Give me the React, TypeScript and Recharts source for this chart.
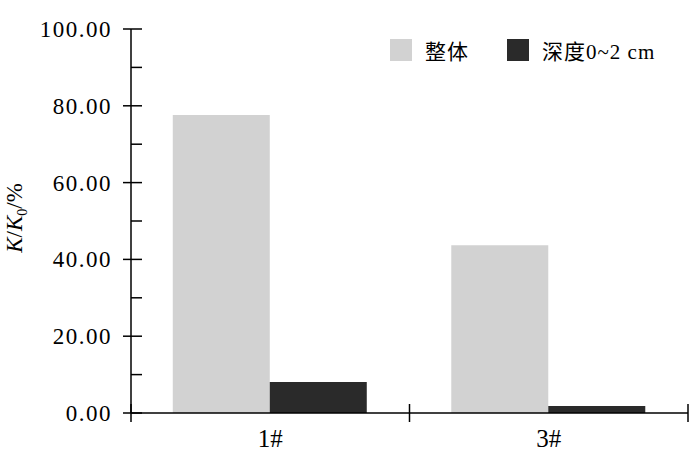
import { BarChart, Bar, XAxis, YAxis, Legend } from "recharts";

const wells = ["1#", "3#"];
const overall = [77.6, 43.7];
const shallow = [8.1, 1.8];
const yTicks = [0, 10, 20, 30, 40, 50, 60, 70, 80, 90, 100];

const data = wells.map((w, i) => ({ name: w, overall: overall[i], shallow: shallow[i] }));

const serif = "'Liberation Serif', 'Times New Roman', serif";
const cjk = "'Liberation Serif', 'Noto Sans CJK SC', serif";

function XTick(props: any) {
  const { x, y, payload, index } = props;
  const half = payload.offset ?? 139;
  return (
    <g>
      {index === 0 && (
        <line x1={x - half} x2={x - half} y1={y - 9} y2={y + 9} stroke="#000" strokeWidth={1.5} />
      )}
      <line x1={x + half} x2={x + half} y1={y - 9} y2={y + 9} stroke="#000" strokeWidth={1.5} />
      <text x={x} y={y + 34} textAnchor="middle" fontSize={25} fontFamily={serif} fill="#000">
        {payload.value}
      </text>
    </g>
  );
}

function YTick(props: any) {
  const { x, y, payload } = props;
  const major = payload.value % 20 === 0;
  return (
    <g>
      <line x1={major ? x - 8 : x} x2={x + 11} y1={y} y2={y} stroke="#000" strokeWidth={1.5} />
      {major && (
        <text x={x - 19} y={y + 8} textAnchor="end" fontSize={23} letterSpacing={1.5} fontFamily={serif} fill="#000">
          {payload.value.toFixed(2)}
        </text>
      )}
    </g>
  );
}

function YLabel(props: any) {
  const { viewBox } = props;
  const cx = viewBox.x + 22;
  const cy = viewBox.y + viewBox.height / 2 - 3;
  return (
    <text
      x={cx}
      y={cy}
      transform={`rotate(-90, ${cx}, ${cy})`}
      textAnchor="middle"
      fontSize={23}
      fontFamily={serif}
      fill="#000"
    >
      <tspan fontStyle="italic">K</tspan>
      <tspan>/</tspan>
      <tspan fontStyle="italic">K</tspan>
      <tspan dy={5} fontSize={14}>0</tspan>
      <tspan dy={-5}>/%</tspan>
    </text>
  );
}

function LegendBox(props: any) {
  const { payload } = props;
  return (
    <div style={{ display: "flex", alignItems: "center" }}>
      {payload.map((p: any, i: number) => (
        <div key={i} style={{ display: "flex", alignItems: "center", marginRight: i === 0 ? 38 : 0 }}>
          <div style={{ width: 22, height: 22, background: p.color }} />
          <span style={{ marginLeft: 13, fontSize: 21, fontFamily: cjk, color: "#000", letterSpacing: 1 }}>
            {p.value}
          </span>
        </div>
      ))}
    </div>
  );
}

export default function App() {
  return (
    <div style={{ position: "absolute", left: 0, top: 0, background: "#fff" }}>
      <BarChart
        width={700}
        height={454}
        data={data}
        margin={{ top: 29, right: 12, bottom: 0, left: 0 }}
        barCategoryGap="15%"
        barGap={0}
      >
        <XAxis
          dataKey="name"
          height={41}
          axisLine={{ stroke: "#000", strokeWidth: 1.5 }}
          tickLine={false}
          tickSize={0}
          tickMargin={0}
          tick={<XTick />}
          interval={0}
        />
        <YAxis
          width={131}
          domain={[0, 100]}
          ticks={yTicks}
          interval={0}
          axisLine={{ stroke: "#000", strokeWidth: 1.5 }}
          tickLine={false}
          tickSize={0}
          tickMargin={0}
          tick={<YTick />}
          label={{ content: <YLabel /> }}
        />
        <Legend
          layout="horizontal"
          verticalAlign="middle"
          align="center"
          content={<LegendBox />}
          wrapperStyle={{ position: "absolute", top: 35, left: 390, width: "auto" }}
        />
        <Bar dataKey="overall" name="整体" fill="#d2d2d2" isAnimationActive={false} />
        <Bar dataKey="shallow" name="深度0~2 cm" fill="#2a2a2a" isAnimationActive={false} />
      </BarChart>
    </div>
  );
}
